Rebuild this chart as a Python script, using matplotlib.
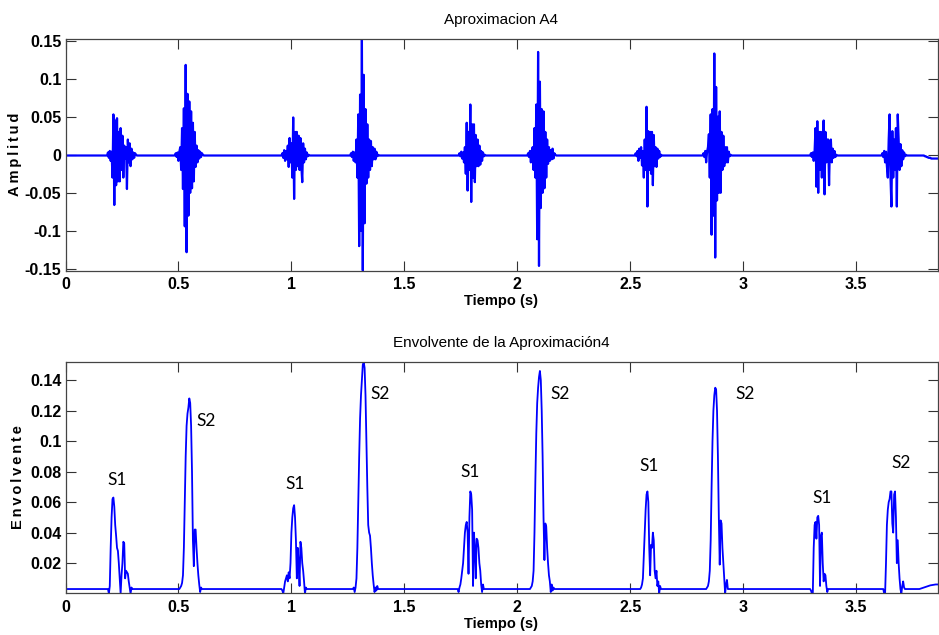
import matplotlib
matplotlib.use('Agg')
import matplotlib.pyplot as plt
import numpy as np

# sample step (s) and total length
dt = 0.004
t_end = 3.87

# ---- Aproximacion A4: burst onsets (s) and sample values ----
a4_onsets = [0.188, 0.486, 0.962, 1.266, 1.744, 2.050, 2.526, 2.824, 3.300, 3.616]
a4_b1 = [0.003, -0.004, 0.005, -0.008, 0.004, -0.03, 0.053, -0.066, 0.045, -0.04, 0.048, -0.035, 0.03,
         -0.035, 0.035, -0.02, 0.025, -0.03, 0.012, -0.005, 0.01, -0.045, 0.02, -0.01, 0.015, -0.015,
         0.008, -0.006, 0.003, -0.004, 0.002, 0.0]
a4_b2 = [0.002, -0.003, 0.003, -0.008, 0.004, 0.01, -0.02, 0.035, -0.045, 0.061, -0.094, 0.118, -0.128,
         0.08, -0.08, 0.07, -0.05, 0.057, -0.044, 0.042, -0.035, 0.03, -0.016, 0.012, -0.01, 0.006,
         -0.005, 0.004, -0.003, 0.002, 0.0]
a4_b3 = [0.002, -0.004, 0.006, -0.008, 0.005, -0.006, 0.012, -0.016, 0.022, -0.01, 0.015, -0.03, 0.049,
         -0.058, 0.03, -0.02, 0.03, -0.015, 0.025, -0.02, 0.022, -0.015, -0.036, 0.015, -0.01, 0.008,
         -0.006, 0.003, -0.002, 0.0]
a4_b4 = [0.002, -0.003, 0.004, -0.008, 0.003, -0.01, 0.02, -0.03, 0.053, -0.12, 0.079, -0.1, 0.152,
         -0.152, 0.105, -0.09, 0.06, -0.038, 0.04, -0.03, 0.02, -0.02, 0.018, -0.015, 0.01, -0.006,
         0.008, -0.006, 0.004, -0.002, 0.0]
a4_b5 = [0.002, -0.002, 0.004, -0.005, 0.003, -0.01, 0.01, -0.025, 0.042, -0.047, 0.03, -0.02, 0.066,
         -0.062, 0.04, -0.03, 0.04, -0.036, 0.026, -0.015, 0.02, -0.015, 0.012, -0.013, 0.005, -0.008,
         0.003, -0.002, 0.0]
a4_b6 = [0.002, -0.003, 0.005, -0.01, 0.004, 0.01, -0.02, 0.035, -0.03, 0.066, -0.111, 0.135, -0.146,
         0.096, -0.07, 0.06, -0.05, 0.057, -0.044, 0.03, -0.03, 0.02, -0.012, 0.01, -0.008, 0.006,
         -0.006, 0.008, -0.005, 0.002, 0.0]
a4_b7 = [0.002, -0.002, 0.005, -0.008, 0.008, -0.004, 0.01, -0.014, 0.005, -0.03, 0.02, -0.02, 0.063,
         -0.068, 0.031, -0.02, 0.03, -0.025, 0.03, -0.04, 0.026, -0.015, 0.01, -0.016, 0.008, -0.005,
         0.005, -0.003, 0.0]
a4_b8 = [0.002, -0.003, 0.005, -0.01, 0.004, 0.01, 0.027, -0.03, 0.053, -0.105, 0.06, -0.08, 0.133,
         -0.135, 0.089, -0.06, 0.05, -0.05, 0.057, -0.05, 0.03, -0.02, 0.025, -0.015, 0.01, -0.01,
         0.01, -0.01, 0.004, -0.002, 0.0]
a4_b9 = [0.002, -0.003, 0.003, -0.008, 0.005, 0.035, -0.042, 0.044, -0.05, 0.03, -0.02, 0.03, -0.03,
         0.02, 0.045, -0.052, 0.03, -0.01, 0.02, 0.02, -0.04, 0.015, 0.02, -0.01, 0.008, -0.004,
         0.005, -0.003, 0.0]
a4_b10 = [0.002, -0.003, 0.005, -0.01, 0.004, -0.015, -0.03, 0.02, 0.053, -0.03, -0.068, 0.031, -0.03,
          0.02, -0.02, 0.035, -0.068, 0.053, 0.02, -0.02, 0.014, -0.015, 0.006, -0.006, 0.003,
          -0.002, 0.0]
a4_bursts = [a4_b1, a4_b2, a4_b3, a4_b4, a4_b5, a4_b6, a4_b7, a4_b8, a4_b9, a4_b10]
a4_base = -0.001
a4_tail_start = 3.80
a4_tail = [-0.001, -0.002, -0.002, -0.003, -0.003, -0.004, -0.004, -0.004, -0.005, -0.005,
           -0.005, -0.005, -0.005, -0.005, -0.005, -0.005, -0.005, -0.005]

# ---- Envolvente: peak onsets (s) and sample values ----
env_onsets = [0.188, 0.504, 0.956, 1.270, 1.736, 2.054, 2.546, 2.836, 3.296, 3.620]
env_p1 = [0.003, 0.0, 0.005, 0.03, 0.05, 0.062, 0.063, 0.057, 0.045, 0.038, 0.03, 0.028, 0.02, 0.01,
          0.0, 0.012, 0.02, 0.034, 0.033, 0.01, 0.015, 0.014, 0.013, 0.008, 0.004, 0.0, 0.004, 0.003]
env_p2 = [0.003, 0.004, 0.005, 0.007, 0.012, 0.03, 0.06, 0.09, 0.11, 0.118, 0.122, 0.128, 0.125, 0.11,
          0.08, 0.035, 0.018, 0.042, 0.042, 0.03, 0.02, 0.012, 0.006, 0.001, 0.004, 0.003]
env_p3 = [0.003, 0.002, 0.0, 0.004, 0.008, 0.01, 0.012, 0.008, 0.014, 0.01, 0.02, 0.04, 0.05, 0.056,
          0.058, 0.05, 0.035, 0.01, 0.03, 0.02, 0.005, 0.034, 0.03, 0.02, 0.015, 0.008, 0.0, 0.004, 0.003]
env_p4 = [0.003, 0.004, 0.001, 0.004, 0.01, 0.03, 0.06, 0.09, 0.115, 0.13, 0.14, 0.15, 0.152, 0.148,
          0.13, 0.1, 0.07, 0.045, 0.04, 0.038, 0.03, 0.02, 0.012, 0.006, 0.001, 0.004, 0.002, 0.005,
          0.003]
env_p5 = [0.003, 0.001, 0.004, 0.006, 0.01, 0.015, 0.02, 0.03, 0.04, 0.045, 0.047, 0.04, 0.013, 0.05,
          0.067, 0.065, 0.055, 0.005, 0.04, 0.03, 0.01, 0.036, 0.035, 0.03, 0.02, 0.015, 0.006, 0.001,
          0.006, 0.003]
env_p6 = [0.003, 0.004, 0.005, 0.008, 0.015, 0.04, 0.075, 0.105, 0.125, 0.135, 0.142, 0.146, 0.14,
          0.12, 0.09, 0.05, 0.022, 0.046, 0.044, 0.03, 0.02, 0.012, 0.008, 0.001, 0.006, 0.002, 0.004,
          0.003]
env_p7 = [0.003, 0.004, 0.006, 0.01, 0.025, 0.04, 0.055, 0.065, 0.067, 0.06, 0.03, 0.012, 0.032, 0.03,
          0.04, 0.035, 0.015, 0.01, 0.015, 0.005, 0.008, 0.0, 0.005, 0.003]
env_p8 = [0.003, 0.004, 0.005, 0.008, 0.015, 0.035, 0.07, 0.1, 0.12, 0.13, 0.135, 0.134, 0.12, 0.09,
          0.05, 0.019, 0.048, 0.046, 0.03, 0.02, 0.01, 0.0, 0.006, 0.009, 0.003]
env_p9 = [0.003, 0.002, 0.0, 0.0, 0.03, 0.045, 0.047, 0.036, 0.05, 0.051, 0.045, 0.005, 0.038, 0.04,
          0.02, 0.008, 0.013, 0.012, 0.005, 0.001, 0.003]
env_p10 = [0.003, 0.0, 0.0, 0.02, 0.045, 0.055, 0.06, 0.062, 0.067, 0.067, 0.046, 0.04, 0.065, 0.067,
           0.05, 0.02, 0.035, 0.02, 0.01, 0.003, 0.0, 0.005, 0.008, 0.004, 0.003]
env_peaks = [env_p1, env_p2, env_p3, env_p4, env_p5, env_p6, env_p7, env_p8, env_p9, env_p10]
env_base = 0.003
env_tail_start = 3.78
env_tail = [0.003, 0.0032, 0.0034, 0.0036, 0.0038, 0.004, 0.0042, 0.0044, 0.0046, 0.0048, 0.005,
            0.0052, 0.0054, 0.0055, 0.0056, 0.0057, 0.0058, 0.0059, 0.006, 0.006, 0.006, 0.006, 0.006]

# S1 / S2 labels (time of left edge, centre height, text)
lab_t = [0.186, 0.58, 0.973, 1.35, 1.748, 2.146, 2.54, 2.965, 3.305, 3.655]
lab_y = [0.0744, 0.113, 0.072, 0.131, 0.080, 0.131, 0.0836, 0.131, 0.0626, 0.0856]
lab_txt = ['S1', 'S2', 'S1', 'S2', 'S1', 'S2', 'S1', 'S2', 'S1', 'S2']


def build(base, onsets, chunks, tail_start, tail):
    t = np.arange(0, t_end + dt, dt)
    y = np.full(t.shape, base)
    for on, vals in zip(onsets + [tail_start], chunks + [tail]):
        i = int(round(on / dt))
        n = min(len(vals), len(t) - i)
        y[i:i + n] = vals[:n]
    return t, y


t1, a4 = build(a4_base, a4_onsets, a4_bursts, a4_tail_start, a4_tail)
t2, env = build(env_base, env_onsets, env_peaks, env_tail_start, env_tail)

narrow = ['Liberation Sans Narrow', 'Liberation Sans', 'DejaVu Sans']
plt.rcParams['font.family'] = narrow

fig = plt.figure(figsize=(9.39, 6.35), dpi=100)
ax1 = fig.add_axes([65.5 / 939, 1 - 270.5 / 635, 872 / 939, 231.5 / 635])
ax2 = fig.add_axes([65.5 / 939, 1 - 593.3 / 635, 872 / 939, 231.5 / 635])

ax1.plot(t1, a4, color='#0000ff', lw=1.6)
ax2.plot(t2, env, color='#0000ff', lw=1.3)

for ax in (ax1, ax2):
    ax.set_xlim(0, 3.86)
    ax.set_xticks([0, 0.5, 1, 1.5, 2, 2.5, 3, 3.5])
    ax.set_xticklabels(['0', '0.5', '1', '1.5', '2', '2.5', '3', '3.5'])
    ax.tick_params(direction='in', length=7, width=0.8, top=True, right=True,
                   labelsize=11.5, colors='#333333', labelcolor='black')
    ax.tick_params(axis='x', pad=5)
    ax.tick_params(axis='y', pad=3)
    for lbl in ax.get_xticklabels() + ax.get_yticklabels():
        lbl.set_fontweight('bold')
    for s in ax.spines.values():
        s.set_color('#444444')
        s.set_linewidth(0.9)
    ax.set_xlabel('Tiempo (s)', fontsize=10.5, fontweight='bold', labelpad=1)

spaced = '\u2009'
ax1.set_ylim(-0.152, 0.152)
ax1.set_yticks([-0.15, -0.1, -0.05, 0, 0.05, 0.1, 0.15])
ax1.set_yticklabels(['-0.15', '-0.1', '-0.05', '0', '0.05', '0.1', '0.15'], fontweight='bold')
ax1.set_title('Aproximacion A4', fontsize=11, pad=11)
ax1.set_ylabel(spaced.join('Amplitud'), fontsize=10.5, fontweight='bold', family='Liberation Sans')
ax1.yaxis.set_label_coords(-0.05, 0.5)

ax2.set_ylim(0.0002, 0.152)
ax2.set_yticks([0.02, 0.04, 0.06, 0.08, 0.1, 0.12, 0.14])
ax2.set_yticklabels(['0.02', '0.04', '0.06', '0.08', '0.1', '0.12', '0.14'], fontweight='bold')
ax2.set_title('Envolvente de la Aproximación4', fontsize=11, pad=11)
ax2.set_ylabel(spaced.join('Envolvente'), fontsize=10.5, fontweight='bold', family='Liberation Sans')
ax2.yaxis.set_label_coords(-0.046, 0.5)

for x, y, s in zip(lab_t, lab_y, lab_txt):
    ax2.text(x, y, s, fontsize=12.5, family=['Lato', 'DejaVu Sans'], ha='left', va='center')

fig.savefig('out.png', dpi=100)
